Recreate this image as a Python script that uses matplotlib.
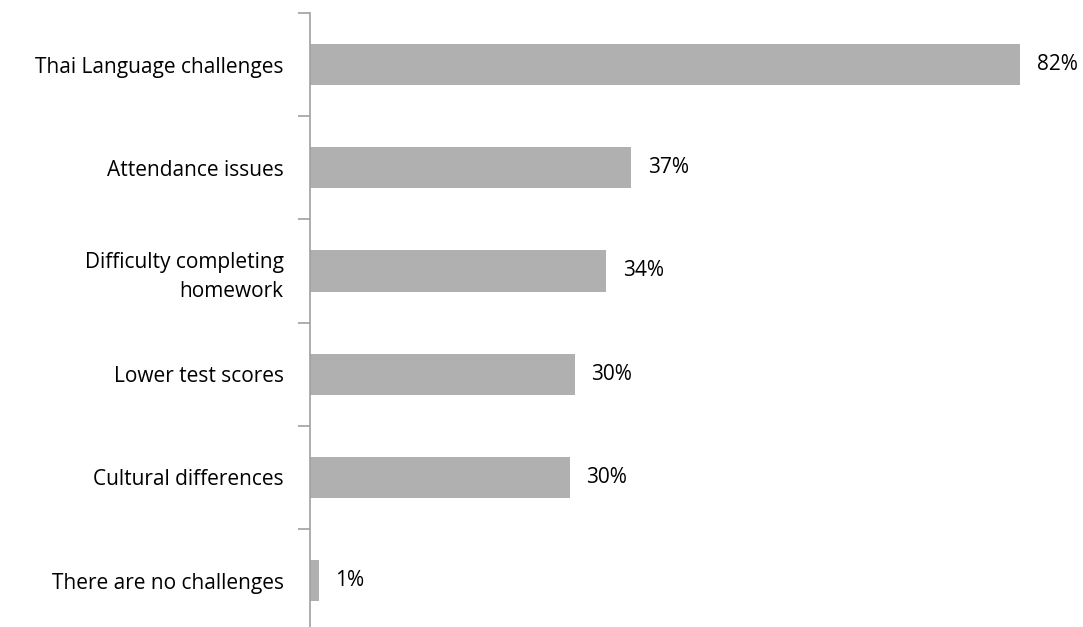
import numpy as np
import matplotlib.pyplot as plt

# Categories and values (percent)
categories = ["Thai Language challenges", "Attendance issues",
              "Difficulty completing\nhomework", "Lower test scores",
              "Cultural differences", "There are no challenges"]
values = [82, 37.1, 34.2, 30.6, 30.0, 1]
value_labels = ["82%", "37%", "34%", "30%", "30%", "1%"]

plt.rcParams['font.family'] = ['Open Sans', 'DejaVu Sans']

fig = plt.figure(figsize=(10.83, 6.27), dpi=100)
ax = fig.add_axes([310/1083, 0.0, 1 - 310/1083, 1 - 13/627])

y = np.arange(len(categories))
ax.barh(y, values, height=0.4, color="#b0b0b0")

for yi, v, lab in zip(y, values, value_labels):
    ax.text(v + 1.9, yi, lab, va="center", ha="left", fontsize=15, color="black")

ax.set_xlim(0, (1083 - 310) / 8.66)
ax.set_ylim(5.45, -0.5)

ax.set_yticks(y)
ax.set_yticklabels(categories, fontsize=15, ha="right", multialignment="right",
                   linespacing=1.45)
ax.tick_params(axis="y", which="major", length=0, pad=19)
ax.set_yticks(np.arange(-0.5, 5.0, 1.0), minor=True)
ax.tick_params(axis="y", which="minor", length=9, color="#a0a0a0", width=1.2)

ax.set_xticks([])
for s in ["top", "right", "bottom"]:
    ax.spines[s].set_visible(False)
ax.spines["left"].set_color("#a0a0a0")
ax.spines["left"].set_linewidth(1.2)

fig.savefig("out.png", dpi=100)
